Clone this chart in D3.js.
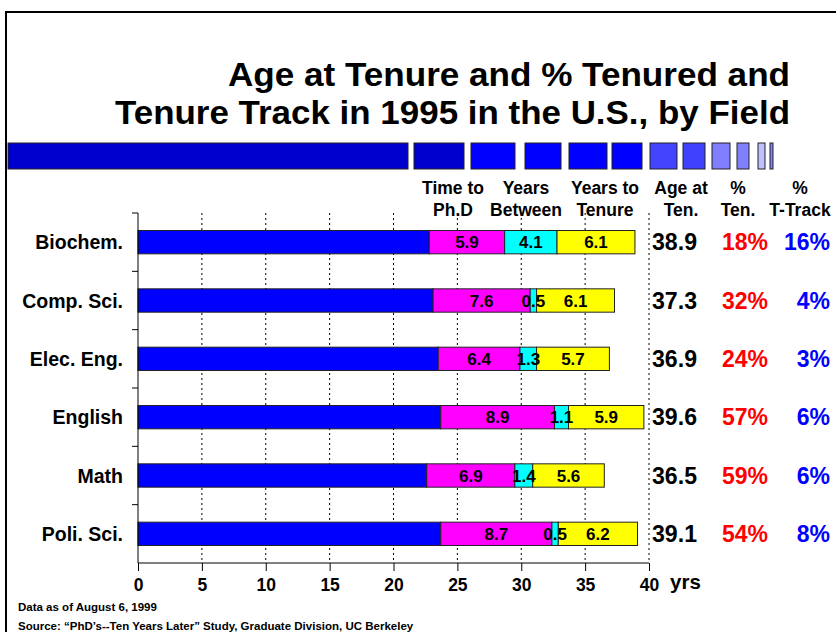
<!DOCTYPE html>
<html>
<head>
<meta charset="utf-8">
<script src="https://cdn.jsdelivr.net/npm/d3@7"></script>
<style>
  body { margin: 0; background: #fff; }
  svg { display: block; font-family: "Liberation Sans", Arial, sans-serif; font-weight: bold; }
</style>
</head>
<body>
<div id="chart"><svg width="836" height="632"></svg></div>
<script>
// fields, top to bottom
const fields = ["Biochem.", "Comp. Sci.", "Elec. Eng.", "English", "Math", "Poli. Sci."]
// age when the Ph.D clock starts (blue part of bar)
const startAge = [22.8, 23.1, 23.5, 23.7, 22.6, 23.7]
const timeToPhD = [5.9, 7.6, 6.4, 8.9, 6.9, 8.7]
const yearsBetween = [4.1, 0.5, 1.3, 1.1, 1.4, 0.5]
const yearsToTenure = [6.1, 6.1, 5.7, 5.9, 5.6, 6.2]
const ageAtTenure = ["38.9", "37.3", "36.9", "39.6", "36.5", "39.1"]
const pctTenured = ["18%", "32%", "24%", "57%", "59%", "54%"]
const pctTrack = ["16%", "4%", "3%", "6%", "6%", "8%"]
const xTicks = [0, 5, 10, 15, 20, 25, 30, 35, 40]
const headers = [["Time to", "Ph.D"], ["Years", "Between"], ["Years to", "Tenure"], ["Age at", "Ten."], ["%", "Ten."], ["%", "T-Track"]]
const segColors = ["#0000ff", "#ff00ff", "#00ffff", "#ffff00"]
// strip of blocks under the title: [x0, x1, colour]
const stripBlocks = [
    [8, 408, "#0000cc"], [414, 464, "#0000cc"], [471, 515, "#0000ff"], [525, 561, "#0000ff"],
    [569, 607, "#0000ff"], [612, 642, "#0000ff"], [650, 677, "#4444ff"], [683, 705, "#4040ff"],
    [712, 730, "#8080ff"], [737, 749, "#8080ff"], [758, 765, "#c0c0ff"], [770, 773, "#8080ff"]
]

const svg = d3.select('#chart').select('svg')
const margin = {top: 213, left: 138, right: 187, bottom: 69}
const width = 836 - margin.left - margin.right,
    height = 632 - margin.top - margin.bottom

// frame
svg.append('path')
    .attr('d', 'M6,632 V12 H836')
    .attr('fill', 'none')
    .attr('stroke', '#000')
    .attr('stroke-width', 2)

// title
const title = svg.append('g').attr('text-anchor', 'end').attr('font-size', 33)
title.append('text').attr('x', 790).attr('y', 86)
    .attr('textLength', 562).attr('lengthAdjust', 'spacingAndGlyphs')
    .text('Age at Tenure and % Tenured and')
title.append('text').attr('x', 790).attr('y', 124)
    .attr('textLength', 675).attr('lengthAdjust', 'spacingAndGlyphs')
    .text('Tenure Track in 1995 in the U.S., by Field')

// block strip
svg.append('g').selectAll('rect').data(stripBlocks).enter()
    .append('rect')
    .attr('x', d => d[0])
    .attr('y', 143)
    .attr('width', d => d[1] - d[0])
    .attr('height', 26)
    .attr('fill', d => d[2])
    .attr('stroke', '#222')
    .attr('stroke-width', 1)

const g = svg.append('g')
    .attr('transform', 'translate(' + margin.left + ',' + margin.top + ')')

const x = d3.scaleLinear().domain([0, 40]).range([0, width])
const y = d3.scaleBand().domain(fields).range([0, height]).paddingInner(0.6).paddingOuter(0.3)

// dotted grid
g.append('g').selectAll('line').data(xTicks.slice(1)).enter()
    .append('line')
    .attr('x1', d => x(d)).attr('x2', d => x(d))
    .attr('y1', 0).attr('y2', height)
    .attr('stroke', '#000')
    .attr('stroke-dasharray', '2,3')

// stacked bars
const stacks = fields.map((f, i) => {
    const parts = [startAge[i], timeToPhD[i], yearsBetween[i], yearsToTenure[i]]
    let acc = 0
    return parts.map((v, j) => {
        const seg = {field: f, j: j, v: v, x0: acc, x1: acc + v}
        acc += v
        return seg
    })
})

const rows = g.selectAll('.row').data(stacks).enter()
    .append('g').attr('class', 'row')

rows.selectAll('rect').data(d => d).enter()
    .append('rect')
    .attr('x', d => x(d.x0))
    .attr('y', d => y(d.field))
    .attr('width', d => x(d.x1) - x(d.x0))
    .attr('height', y.bandwidth())
    .attr('fill', d => segColors[d.j])
    .attr('stroke', '#222')
    .attr('stroke-width', 1)

rows.selectAll('text').data(d => d.filter(s => s.j > 0)).enter()
    .append('text')
    .attr('x', d => (x(d.x0) + x(d.x1)) / 2)
    .attr('y', d => y(d.field) + y.bandwidth() / 2 + 6)
    .attr('text-anchor', 'middle')
    .attr('font-size', 17)
    .text(d => d.v.toFixed(1))

// y axis
const yAxis = g.append('g')
yAxis.append('line').attr('x1', 0).attr('x2', 0).attr('y1', 0).attr('y2', height).attr('stroke', '#000')
yAxis.selectAll('.tk').data(d3.range(fields.length)).enter()
    .append('line')
    .attr('x1', -6).attr('x2', 0)
    .attr('y1', i => i * height / fields.length)
    .attr('y2', i => i * height / fields.length)
    .attr('stroke', '#000')
yAxis.selectAll('text').data(fields).enter()
    .append('text')
    .attr('x', -15)
    .attr('y', d => y(d) + y.bandwidth() / 2 + 7)
    .attr('text-anchor', 'end')
    .attr('font-size', 19.5)
    .text(d => d)

// x axis
const xAxis = g.append('g')
    .attr('transform', 'translate(0,' + height + ')')
    .call(d3.axisBottom(x).tickValues(xTicks).tickSize(8).tickPadding(8))
xAxis.select('.domain').attr('stroke', '#000').attr('d', 'M0,0H' + width)
xAxis.selectAll('text')
    .attr('font-family', '"Liberation Sans", Arial, sans-serif')
    .attr('font-weight', 'bold')
    .attr('font-size', 17.5)
    .attr('fill', '#000')
xAxis.append('text')
    .attr('x', width + 21)
    .attr('y', 26)
    .attr('text-anchor', 'start')
    .attr('font-size', 20.5)
    .attr('fill', '#000')
    .text('yrs')

// column headers
const headX = [453, 526, 605, 681, 738, 800]
const head = svg.append('g').attr('text-anchor', 'middle').attr('font-size', 17.5)
headers.forEach((h, i) => {
    const t = head.append('text').attr('x', headX[i]).attr('y', 194)
    t.append('tspan').attr('x', headX[i]).text(h[0])
    t.append('tspan').attr('x', headX[i]).attr('dy', 22).text(h[1])
})

// right-hand columns
const right = svg.append('g').attr('font-size', 23)
fields.forEach((f, i) => {
    const cy = margin.top + y(f) + y.bandwidth() / 2 + 8
    right.append('text').attr('x', 652).attr('y', cy).attr('fill', '#000')
        .attr('textLength', 45).attr('lengthAdjust', 'spacingAndGlyphs').text(ageAtTenure[i])
    right.append('text').attr('x', 768).attr('y', cy).attr('text-anchor', 'end').attr('fill', '#ff0000').text(pctTenured[i])
    right.append('text').attr('x', 830).attr('y', cy).attr('text-anchor', 'end').attr('fill', '#0000ff').text(pctTrack[i])
})

// notes
svg.append('text').attr('x', 18).attr('y', 611).attr('font-size', 11.5).text('Data as of August 6, 1999')
svg.append('text').attr('x', 18).attr('y', 629.5).attr('font-size', 11.5)
    .text('Source:  \u201cPhD\u2019s--Ten Years Later\u201d Study, Graduate Division, UC Berkeley')
</script>
</body>
</html>
